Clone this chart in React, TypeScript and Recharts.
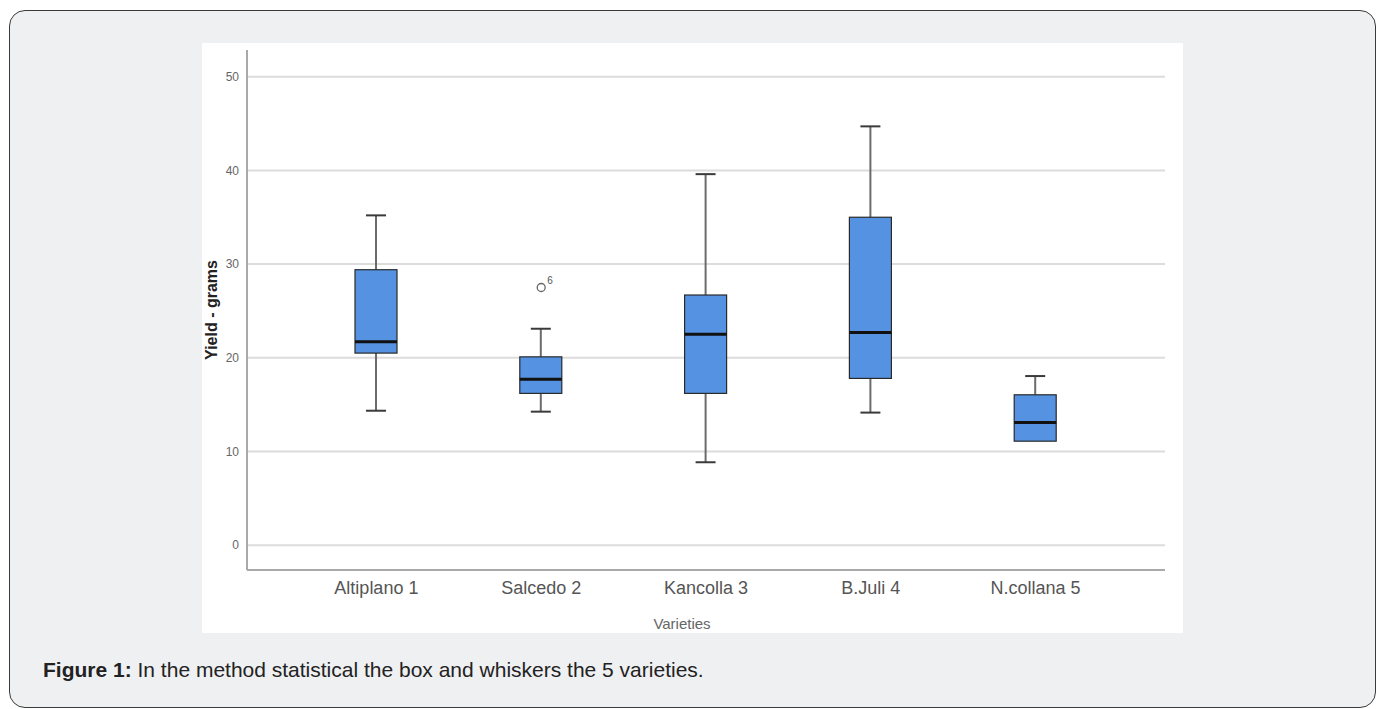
import React from 'react';
import { ComposedChart, Bar, Scatter, XAxis, YAxis, CartesianGrid } from 'recharts';

// Box-plot values (grams)
const categories = ['Altiplano 1', 'Salcedo 2', 'Kancolla 3', 'B.Juli 4', 'N.collana 5'];
const whiskerLow = [14.35, 14.25, 8.85, 14.15, 11.1];
const quartile1 = [20.5, 16.2, 16.2, 17.8, 11.1];
const medians = [21.7, 17.7, 22.5, 22.7, 13.1];
const quartile3 = [29.4, 20.1, 26.7, 35.0, 16.05];
const whiskerHigh = [35.2, 23.1, 39.6, 44.7, 18.05];

const outlierCategory = ['Salcedo 2'];
const outlierValue = [27.5];
const outlierCase = ['6'];

const yTicks = [0, 10, 20, 30, 40, 50];

const FONT = "'Liberation Sans', Arial, sans-serif";

const chartData = categories.map((name, i) => ({
  name,
  low: whiskerLow[i],
  q1: quartile1[i],
  median: medians[i],
  q3: quartile3[i],
  high: whiskerHigh[i],
  box: [quartile1[i], quartile3[i]],
}));

const outlierData = outlierCategory.map((name, i) => ({
  name,
  value: outlierValue[i],
  label: outlierCase[i],
}));

// draws whiskers, box and median; pixel positions come from the bar's own scaled geometry
const BoxShape = (props: any) => {
  const { x, y, width, height, payload } = props;
  if (!payload || height === undefined) return null;
  const top = Math.min(y, y + height);
  const h = Math.abs(height);
  const span = payload.q3 - payload.q1;
  const toPx = (v: number) => top + ((payload.q3 - v) / span) * h;
  const cx = x + width / 2;
  const capHalf = 10;
  const yHigh = toPx(payload.high);
  const yLow = toPx(payload.low);
  const yMed = toPx(payload.median);
  return (
    <g>
      {payload.high > payload.q3 && (
        <>
          <line x1={cx} x2={cx} y1={top} y2={yHigh} stroke="#6b6b6b" strokeWidth={2} />
          <line x1={cx - capHalf} x2={cx + capHalf} y1={yHigh} y2={yHigh} stroke="#3a3a3a" strokeWidth={2} />
        </>
      )}
      {payload.low < payload.q1 && (
        <>
          <line x1={cx} x2={cx} y1={top + h} y2={yLow} stroke="#6b6b6b" strokeWidth={2} />
          <line x1={cx - capHalf} x2={cx + capHalf} y1={yLow} y2={yLow} stroke="#3a3a3a" strokeWidth={2} />
        </>
      )}
      <rect x={x} y={top} width={width} height={h} fill="#5593e2" stroke="#2a2a2a" strokeWidth={1.2} />
      <line x1={x} x2={x + width} y1={yMed} y2={yMed} stroke="#111" strokeWidth={3} />
    </g>
  );
};

const OutlierShape = (props: any) => {
  const { cx, cy, payload } = props;
  return (
    <g>
      <circle cx={cx} cy={cy} r={4} fill="#fff" stroke="#666" strokeWidth={1.3} />
      <text x={cx + 6} y={cy - 4} fontSize={10} fill="#555" fontFamily={FONT}>
        {payload.label}
      </text>
    </g>
  );
};

export default function App() {
  return (
    <div style={{ position: 'absolute', left: 0, top: 0, width: 1380, height: 709, overflow: 'hidden', fontFamily: FONT }}>
      {/* card */}
      <div
        style={{
          position: 'absolute',
          left: 9,
          top: 10,
          width: 1365,
          height: 696,
          background: '#eff0f2',
          border: '1.5px solid #3a3a3a',
          borderRadius: 16,
        }}
      />
      {/* white chart panel */}
      <div style={{ position: 'absolute', left: 202, top: 43, width: 981, height: 590, background: '#fff' }}>
        <ComposedChart
          width={981}
          height={590}
          data={chartData}
          margin={{ top: 7, right: 18, left: 0, bottom: 0 }}
        >
          <CartesianGrid vertical={false} horizontalValues={yTicks} stroke="#dcdcdc" strokeWidth={2} />
          <XAxis
            dataKey="name"
            type="category"
            allowDuplicatedCategory={false}
            padding={{ left: 47, right: 47 }}
            height={63}
            tickLine={false}
            tickMargin={5}
            axisLine={{ stroke: '#a9a9a9', strokeWidth: 2 }}
            tick={{ fontSize: 18, fill: '#555', fontFamily: FONT }}
            label={{
              value: 'Varieties',
              position: 'insideBottom',
              offset: 4,
              dx: -24,
              style: { fontSize: 15, fill: '#666', fontFamily: FONT },
            }}
          />
          <YAxis
            type="number"
            domain={[-2.65, 52.85]}
            ticks={yTicks}
            width={45}
            tickLine={false}
            axisLine={{ stroke: '#a9a9a9', strokeWidth: 2 }}
            tick={{ fontSize: 12, fill: '#666', fontFamily: FONT }}
            label={{
              value: 'Yield - grams',
              angle: -90,
              position: 'insideLeft',
              offset: 9,
              style: { textAnchor: 'middle', fontSize: 16, fontWeight: 'bold', fill: '#222', fontFamily: FONT },
            }}
          />
          <Bar dataKey="box" barSize={42} shape={BoxShape} isAnimationActive={false} />
          <Scatter data={outlierData} dataKey="value" shape={OutlierShape} isAnimationActive={false} />
        </ComposedChart>
      </div>
      {/* caption */}
      <div style={{ position: 'absolute', left: 43, top: 658, fontSize: 21, color: '#222', whiteSpace: 'nowrap' }}>
        <b>Figure 1:</b> In the method statistical the box and whiskers the 5 varieties.
      </div>
    </div>
  );
}
